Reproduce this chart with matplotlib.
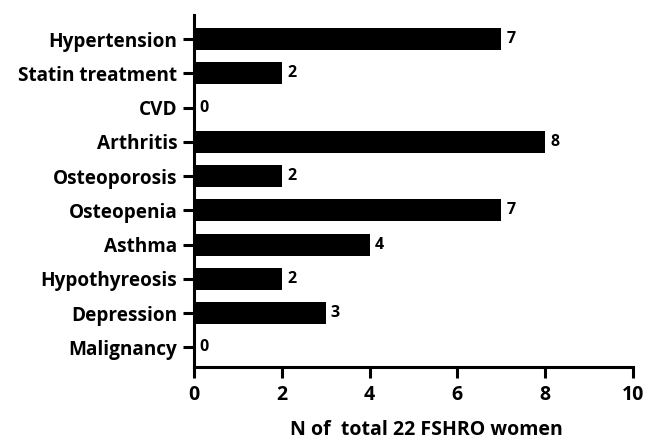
import matplotlib
matplotlib.use("Agg")
import matplotlib.pyplot as plt
import numpy as np

# data
conditions = ["Hypertension", "Statin treatment", "CVD", "Arthritis", "Osteoporosis",
              "Osteopenia", "Asthma", "Hypothyreosis", "Depression", "Malignancy"]
counts = [7, 2, 0, 8, 2, 7, 4, 2, 3, 0]
xticks = [0, 2, 4, 6, 8, 10]

plt.rcParams['font.family'] = ['Open Sans', 'DejaVu Sans']
plt.rcParams['font.weight'] = 'bold'

fig = plt.figure(figsize=(6.49, 4.44), dpi=100)
ax = fig.add_axes([0.299, 0.173, 0.676, 0.793])

y = np.arange(len(conditions))
ax.barh(y, counts, height=0.64, color="black")
for yi, c in zip(y, counts):
    ax.text(c + 0.12, yi, str(c), va="center", ha="left", fontsize=11.5, fontweight="bold")

ax.set_xlim(0, 10)
ax.set_ylim(len(conditions) - 1 + 0.58, -0.7)
ax.set_yticks(y)
ax.set_yticklabels(conditions, fontsize=13.7, fontweight="bold")
ax.set_xticks(xticks)
ax.set_xticklabels([str(t) for t in xticks], fontsize=14, fontweight="bold")
ax.set_xlabel("N of  total 22 FSHRO women", fontsize=14, fontweight="bold")
# label sits a bit right of the axis centre in the original
ax.xaxis.set_label_coords(0.53, -0.15)

for s in ["top", "right"]:
    ax.spines[s].set_visible(False)
for s in ["left", "bottom"]:
    ax.spines[s].set_linewidth(2.2)
ax.tick_params(axis="y", length=8, width=2.2, pad=4)
ax.tick_params(axis="x", length=8, width=2.2, pad=5)

fig.savefig("out.png", dpi=100)
